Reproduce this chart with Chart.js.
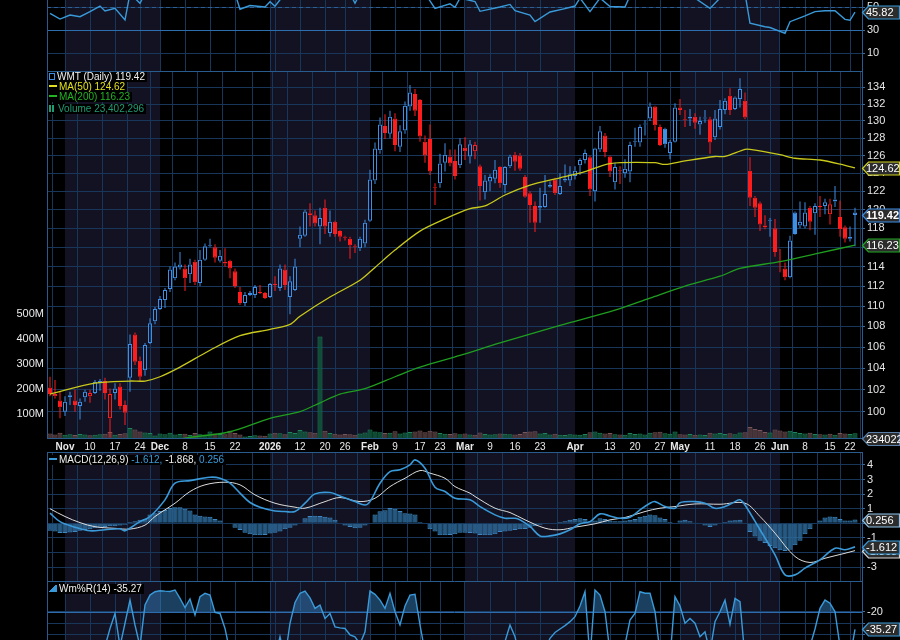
<!DOCTYPE html>
<html>
<head>
<meta charset="utf-8">
<title>WMT Daily</title>
<script src="https://cdn.jsdelivr.net/npm/chart.js@4.4.1/dist/chart.umd.min.js"></script>
<style>
  html, body { margin: 0; padding: 0; background: #000; }
  body { width: 900px; height: 640px; position: relative; overflow: hidden; font-family: "Liberation Sans", Arial, sans-serif; }
  .pane { position: absolute; left: 0; width: 900px; }
  .lg { position: absolute; left: 48px; font-size: 10px; line-height: 10px; color: #f0f0f0; white-space: nowrap; }
  .lg > div { display: table; background: #000; padding-right: 2px; }
  .ico { display: inline-block; vertical-align: middle; margin: -2px 2px 0 1px; }
  .dash { width: 8px; height: 2px; }
</style>
</head>
<body>
<div class="pane" style="top:0;height:71px"><canvas id="rsiChart"></canvas></div>
<div class="pane" style="top:71px;height:381px"><canvas id="priceChart"></canvas></div>
<div class="pane" style="top:452px;height:129px"><canvas id="macdChart"></canvas></div>
<div class="pane" style="top:581px;height:59px"><canvas id="wprChart"></canvas></div>

<div class="lg" style="top:72px">
  <div><span class="ico" style="width:6px;height:7px;border:1px solid #3d8fe6;box-sizing:border-box"></span><span id="lgPrice"></span></div>
  <div style="color:#e0e020"><span class="ico dash" style="background:#e0e020"></span><span id="lgMa50"></span></div>
  <div style="color:#22b422"><span class="ico dash" style="background:#22b422"></span><span id="lgMa200"></span></div>
  <div style="color:#1f9c74;margin-top:2px"><span class="ico" style="width:7px;height:7px;background:linear-gradient(90deg,#1f9c74 2px,transparent 2px,transparent 3px,#1f9c74 3px,#1f9c74 5px,transparent 5px)"></span><span id="lgVol"></span></div>
</div>
<div class="lg" style="top:455px">
  <div><span class="ico dash" style="background:#3a9ad9"></span><span>MACD(12,26,9)</span><span style="color:#3a9ad9" id="lgMacd"></span><span id="lgSig"></span><span style="color:#3a9ad9" id="lgHist"></span></div>
</div>
<div class="lg" style="top:584px">
  <div><span class="ico" style="width:8px;height:7px;background:linear-gradient(135deg,transparent 45%,#3a9ad9 45%)"></span><span id="lgWpr"></span></div>
</div>

<script>
// ---- data: WMT daily, Oct 29 2025 .. Jun 23 2026 (162 sessions) ----
const openP = [
  102.2,101.6,101.0,100.0,101.3,101.0,100.5,101.3,101.4,101.7,
  102.6,102.8,99.4,101.7,102.3,100.6,103.1,107.2,104.7,103.8,
  106.4,108.5,109.7,110.6,111.7,112.8,113.9,113.8,113.2,114.5,
  112.3,114.7,116.1,116.0,114.6,114.5,114.6,113.5,111.4,110.3,
  111.1,111.1,111.4,111.3,110.9,112.2,111.8,113.7,110.9,111.6,
  116.9,117.2,119.6,119.4,118.2,120.2,117.5,118.7,117.7,117.1,
  116.9,116.1,115.9,116.4,118.8,123.2,126.6,129.4,128.5,130.3,
  127.0,128.9,131.7,133.2,132.5,127.6,127.9,122.5,122.9,125.2,
  125.9,125.4,124.9,126.9,125.9,126.5,124.8,121.9,123.1,123.4,
  124.7,122.7,124.8,126.1,126.0,123.6,121.8,120.4,120.2,120.3,
  122.5,123.3,121.7,123.2,123.2,123.7,124.9,125.5,125.8,122.0,
  126.7,128.3,125.9,123.0,124.4,124.0,124.2,127.6,127.5,129.6,
  130.3,131.7,129.3,129.1,126.3,127.6,131.6,130.2,130.3,130.5,
  129.6,130.3,130.2,128.1,129.3,131.3,133.0,131.4,132.6,132.4,
  124.3,121.3,120.7,118.1,118.8,118.0,114.6,113.8,112.9,119.7,
  118.3,118.2,120.2,119.6,120.4,120.4,119.5,120.9,119.2,118.1,
  116.9,119.7
];
const highP = [
  103.2,102.9,101.8,101.4,101.8,102.0,101.2,102.0,102.0,102.9,
  103.0,103.1,102.1,102.6,102.6,101.0,107.2,107.4,105.1,106.4,
  108.8,109.9,111.0,111.8,114.0,114.4,115.5,114.2,114.8,114.7,
  115.7,116.4,116.9,116.3,115.7,115.9,114.7,113.8,111.9,111.4,
  111.5,112.1,112.1,111.4,112.3,113.0,114.2,114.2,113.0,114.8,
  118.2,120.0,120.7,119.9,120.2,121.1,119.9,118.8,117.8,117.2,
  117.1,116.3,117.1,118.9,124.4,127.5,130.4,130.8,131.2,130.9,
  129.5,132.3,134.3,133.8,132.6,128.3,129.6,122.9,126.2,127.4,
  126.7,126.7,128.0,128.1,127.8,127.6,125.0,123.8,123.9,125.5,
  124.8,124.8,126.1,126.4,126.3,123.8,122.0,120.9,122.4,123.8,
  123.1,123.5,124.0,125.0,124.8,124.8,125.7,126.7,126.0,126.9,
  129.4,128.6,126.0,125.2,124.8,125.6,127.6,129.2,129.6,130.1,
  132.2,131.8,129.6,129.2,127.8,132.1,132.6,131.3,131.4,130.9,
  130.5,131.3,130.5,131.3,132.5,132.7,133.9,132.9,135.1,133.4,
  125.8,121.5,120.9,119.4,119.1,119.0,115.8,114.4,117.2,119.8,
  120.9,120.8,120.4,120.7,121.5,121.2,121.2,122.6,121.0,118.3,
  118.2,120.2
];
const lowP = [
  101.4,101.2,99.4,99.6,100.6,100.0,99.3,100.9,100.8,101.6,
  101.9,101.1,97.7,101.1,100.2,98.8,101.8,104.3,102.8,103.3,
  106.3,108.2,109.6,109.8,111.4,112.6,113.7,111.5,112.3,112.1,
  112.0,114.6,116.0,114.4,114.4,114.0,112.8,111.8,110.1,110.0,
  111.0,110.8,111.2,110.7,110.8,111.5,111.5,111.6,109.2,111.5,
  116.0,117.1,118.2,118.2,116.3,117.4,117.1,117.1,116.6,116.7,
  114.8,115.4,115.6,116.0,118.7,122.8,126.2,127.9,128.0,126.5,
  126.4,128.5,131.2,130.6,127.6,125.2,123.8,120.5,122.4,124.2,
  124.8,123.3,124.6,125.5,125.1,125.6,121.0,121.1,122.0,122.9,
  122.4,121.8,124.6,124.3,124.3,121.3,118.6,117.6,118.6,120.2,
  122.4,121.6,121.6,123.0,122.6,123.3,123.8,125.1,121.5,120.9,
  126.4,125.8,123.6,122.2,122.8,123.5,123.0,127.0,127.0,128.3,
  130.0,128.9,127.1,126.9,125.6,127.5,130.7,129.3,129.4,129.1,
  128.4,129.8,126.2,127.8,129.0,130.8,130.7,131.3,131.6,130.2,
  120.4,119.2,117.7,117.9,117.1,115.0,113.4,112.6,112.8,117.3,
  118.0,118.0,117.8,117.3,119.2,119.5,118.4,120.3,117.1,116.5,
  116.6,116.1
];
const closeP = [
  101.6,101.4,100.4,100.9,101.5,100.6,100.9,101.8,101.7,102.7,
  102.8,101.7,101.6,102.1,100.5,99.9,106.3,104.6,103.2,106.2,
  108.3,109.7,110.7,111.6,113.7,114.0,114.2,112.8,114.2,112.4,
  114.7,116.1,116.2,114.9,115.1,114.3,113.8,112.0,110.3,111.1,
  111.3,111.9,111.3,110.8,112.2,112.1,113.8,112.1,112.5,114.0,
  117.3,119.8,119.4,118.5,119.1,118.2,118.7,117.4,117.1,117.0,
  116.2,116.0,116.9,118.6,123.3,126.8,129.6,128.6,130.5,127.2,
  128.8,131.8,133.4,131.2,128.2,126.0,124.2,122.4,125.1,126.1,
  125.1,123.7,127.3,126.5,127.3,127.2,122.6,123.2,123.6,124.4,
  122.9,124.7,125.9,125.3,124.5,121.4,120.5,118.6,120.4,121.7,
  122.7,121.8,122.6,123.4,123.9,124.3,125.5,126.3,122.2,126.8,
  128.8,126.4,124.2,124.7,124.3,124.5,127.2,127.7,129.3,129.7,
  131.7,129.5,127.2,127.3,127.6,131.6,131.3,130.1,130.5,129.8,
  130.0,130.4,127.5,130.3,131.4,132.4,131.3,132.8,133.8,130.4,
  121.3,120.2,118.4,118.3,118.9,115.5,114.5,112.9,116.7,117.4,
  118.7,119.7,118.7,120.4,120.3,120.8,120.6,121.1,117.9,116.9,
  117.1,119.42
];
const prevClose0 = 102.6;
// volume, millions of shares
const volumeM = [
  22,18,25,17,19,16,20,18,15,17,
  19,21,28,17,20,23,44,38,30,26,
  24,14,22,19,25,18,20,21,16,24,
  19,18,30,22,20,19,33,24,18,10,
  12,15,14,13,22,25,23,19,28,24,
  36,30,27,25,410,33,24,21,18,20,
  19,17,22,26,38,30,27,24,25,31,
  22,26,28,30,34,27,33,30,24,21,
  20,23,19,22,18,17,26,20,18,19,
  22,21,19,18,20,28,30,31,22,24,
  18,21,17,16,19,18,17,20,27,30,
  25,22,24,19,18,17,24,20,22,18,
  25,27,29,23,21,30,19,18,20,17,
  18,16,25,22,24,20,23,19,26,27,
  48,40,36,28,26,38,34,30,33,28,
  24,22,25,20,19,18,21,17,24,22,
  20,23.402296
];

// axis ticks (session index -> label) and month starts
const tickIdx  = [3,8,13,18,22,27,32,37,44,45,50,55,59,64,69,74,78,83,88,93,98,105,112,117,122,126,132,137,142,146,151,156,160];
const tickText = ['Nov','10','17','24','Dec','8','15','22','2026','','12','20','26','Feb','9','17','23','Mar','9','16','23','Apr','13','20','27','May','11','18','26','Jun','8','15','22'];
const monthStart = [3,22,44,64,83,105,126,146];

// indicator readings [session index, value]
const ma50Pts = [[0,101.6],[9,102.6],[16,102.8],[19,102.8],[22,103.2],[26,104.1],[32,105.7],[38,107.1],[44,107.7],[48,108.2],[50,109.0],[56,110.9],[62,112.6],[65,113.9],[69,115.7],[74,117.7],[79,119.0],[84,120.1],[87,120.4],[91,121.6],[96,122.7],[102,123.5],[107,124.2],[112,125.1],[121,125.2],[123,125.0],[127,125.4],[133,125.9],[135,125.9],[139,126.7],[140,126.7],[146,126.1],[149,125.7],[154,125.5],[159,124.9],[161,124.62]];
const ma200Pts = [[22,97.3],[28,97.7],[36,98.2],[44,99.4],[50,100.0],[54,100.8],[58,101.6],[63,102.1],[69,103.2],[74,104.1],[82,105.2],[90,106.4],[102,108.1],[113,109.6],[120,110.8],[127,112.0],[134,113.0],[138,113.8],[146,114.5],[154,115.4],[161,116.23]];
const rsiPts = [[0,44.8],[2,39.8],[4,43.3],[6,41.8],[8,46.2],[10,51.1],[11,46.8],[13,49.1],[15,39.0],[16,62],[18,53.5],[19,62],[37,62],[38,48.3],[40,51.5],[43,50.3],[44,54.9],[45,51],[47,62],[60,62],[61,53.5],[62,62],[75,62],[77,49.1],[80,53],[81,50],[82,58],[85,55],[86,46.5],[90,50.3],[92,52.5],[93,47],[96,43.3],[97,37.5],[100,45.9],[103,48.9],[105,51.1],[106,58],[108,46.2],[110,58],[112,50.7],[115,50.3],[116,60],[128,60],[129,58],[132,49],[134,58],[139,62],[140,36.1],[143,33.1],[144,32.4],[147,27.4],[148,37.5],[151,42.5],[153,46.2],[155,47],[157,47],[159,39.5],[160,38.7],[161,45.82]];
const macdPts = [[0,0.70],[2,0.12],[5,-0.26],[8,-0.51],[11,-0.44],[14,-0.37],[15,-0.51],[18,0.12],[20,0.47],[23,1.61],[25,2.75],[28,2.93],[32,3.16],[34,3.09],[36,2.75],[38,2.07],[40,1.43],[42,1.11],[45,0.85],[47,0.81],[49,0.81],[51,1.38],[53,2.02],[56,2.11],[58,1.88],[61,1.49],[63,1.26],[64,1.49],[66,2.75],[68,3.55],[70,3.67],[72,4.01],[73,4.35],[75,3.78],[77,2.48],[79,2.18],[81,1.72],[84,1.61],[86,1.15],[89,0.58],[91,0.35],[93,0.35],[94,0.24],[96,-0.21],[98,-0.86],[100,-0.86],[102,-0.72],[104,-0.44],[106,-0.03],[108,0.12],[110,0.65],[112,0.51],[114,0.35],[116,0.42],[118,0.92],[120,1.38],[121,1.49],[123,1.15],[125,1.03],[126,1.42],[129,1.49],[131,1.38],[133,1.03],[135,1.15],[137,1.49],[138,1.61],[139,1.26],[142,-0.44],[145,-2.16],[147,-3.53],[149,-3.53],[151,-3.07],[154,-2.50],[157,-1.70],[159,-1.81],[161,-1.612]];
const signalPts = [[0,1.0],[3,0.47],[6,0.05],[9,-0.23],[13,-0.34],[16,-0.39],[19,-0.12],[21,0.47],[25,1.38],[28,2.18],[31,2.64],[35,2.82],[38,2.64],[41,1.95],[45,1.38],[49,1.11],[51,1.04],[55,1.49],[58,1.77],[62,1.49],[65,1.72],[68,2.52],[71,3.09],[74,3.62],[76,3.44],[79,3.09],[81,2.52],[84,2.07],[85,1.84],[89,1.04],[92,0.74],[95,0.24],[99,-0.33],[102,-0.44],[105,-0.26],[109,-0.03],[112,0.24],[115,0.40],[119,0.81],[122,1.04],[125,1.15],[129,1.33],[134,1.31],[139,1.38],[142,0.47],[145,-0.67],[149,-2.27],[152,-2.68],[155,-2.39],[159,-2.05],[161,-1.868]];
const histVals = [
  -0.5,-0.55,-0.66,-0.66,-0.62,-0.6,-0.5,-0.45,-0.4,-0.33,
  -0.3,-0.25,-0.2,-0.2,-0.15,-0.1,0.1,0.15,0.24,0.3,
  0.6,0.7,0.85,0.92,1.05,1.1,1.1,1.0,0.88,0.6,
  0.52,0.47,0.45,0.3,0.2,0.05,-0.05,-0.3,-0.45,-0.65,
  -0.75,-0.82,-0.82,-0.8,-0.7,-0.64,-0.55,-0.4,-0.3,-0.15,
  0.05,0.35,0.5,0.52,0.5,0.45,0.4,0.25,0.05,-0.15,
  -0.25,-0.33,-0.3,-0.15,-0.05,0.6,0.83,0.9,1.06,1.0,
  0.85,0.7,0.67,0.6,0.1,-0.05,-0.4,-0.55,-0.82,-0.82,
  -0.8,-0.75,-0.64,-0.64,-0.66,-0.7,-0.8,-0.82,-0.82,-0.75,
  -0.6,-0.55,-0.5,-0.45,-0.4,-0.38,-0.3,-0.2,-0.1,-0.05,
  0.0,0.05,0.1,0.15,0.24,0.3,0.35,0.3,0.15,0.2,
  0.35,0.3,0.2,0.15,0.15,0.2,0.25,0.3,0.45,0.52,
  0.6,0.55,0.4,0.3,0.1,0.05,0.2,0.24,0.15,0.02,
  -0.05,-0.15,-0.25,-0.15,0.02,0.1,0.2,0.22,0.25,0.05,
  -0.6,-0.9,-1.2,-1.35,-1.55,-1.7,-1.85,-1.9,-1.8,-1.5,
  -1.2,-0.75,-0.4,-0.05,0.2,0.4,0.47,0.45,0.3,0.2,
  0.2,0.256
];
const wprPts = [[0,-75],[5,-80],[10,-70],[11,-50],[12,-34.5],[13,-21.5],[14,-50],[15,-30],[16,-9.9],[17,-31.5],[18,-50],[19,-14.2],[20,-5.6],[21,-2.7],[22,-1.8],[23,-2.2],[24,-2.5],[25,-1.2],[26,-8.4],[27,-16.5],[28,-8.9],[29,-22.9],[30,-7.0],[31,-4.1],[32,-5.6],[33,-20.6],[34,-21.5],[35,-34.5],[36,-55],[40,-80],[45,-60],[46,-41.7],[47,-60],[48,-30],[49,-12],[50,-4],[51,-2.1],[52,-8],[53,-17.1],[54,-14.2],[55,-25.8],[56,-21.5],[57,-33.1],[58,-34],[59,-34.5],[60,-40],[61,-41.7],[62,-48],[63,-37.4],[64,-2.1],[65,-5],[66,-10],[67,-17.1],[68,-4.1],[69,-20],[70,-31.5],[71,-15],[72,-5.6],[73,-5.0],[74,-31.5],[75,-55],[80,-75],[85,-80],[90,-60],[92,-31.5],[93,-41.7],[94,-60],[97,-75],[100,-43],[101,-38],[102,-35],[103,-32],[104,-28.6],[105,-24.3],[106,-15],[107,-2.7],[108,-60],[109,-1.2],[110,-5.6],[111,-20.0],[112,-55],[114,-70],[116,-27.2],[117,-21.5],[118,-2.7],[119,-4],[120,-4],[121,-20],[122,-55],[124,-60],[125,-7.0],[126,-15],[127,-30.0],[128,-25.8],[129,-30],[130,-41.7],[131,-37.4],[132,-55],[133,-28.6],[134,-20],[135,-9.9],[136,-30.9],[137,-8.4],[138,-11.3],[139,-60],[145,-90],[150,-80],[152,-50],[153,-35],[154,-17.1],[155,-9.9],[156,-12.7],[157,-20],[158,-50],[160,-60],[161,-35.27]];

// ---- styling ----
const FONT = '"Liberation Sans", Arial, sans-serif';
const GRID = '#17365a';
const FRAME = '#2a5b8d';
const NAVY = '#121222';
const BLUE = '#3a9ad9';
const UP = '#3d8fe6', DN = '#ff1c1c';
const N = closeP.length;
const X_MIN = -0.6, X_MAX = N + 0.4;

Chart.defaults.font.family = FONT;

const last = a => a[a.length - 1][1];
const pts = a => a.map(p => ({ x: p[0], y: p[1] }));
const isUp = i => closeP[i] >= (i ? closeP[i - 1] : prevClose0);
const isFilled = i => closeP[i] < openP[i];
const candleCol = i => isUp(i) ? UP : DN;

// ---- plugins ----
const shade = {
  id: 'shade',
  beforeDraw(chart) {
    const { ctx, chartArea: a, scales: { x } } = chart;
    ctx.save();
    ctx.fillStyle = NAVY;
    for (let k = 0; k < monthStart.length; k += 2) {
      const x0 = x.getPixelForValue(monthStart[k]);
      const x1 = k + 1 < monthStart.length ? x.getPixelForValue(monthStart[k + 1]) : a.right;
      ctx.fillRect(x0, a.top, x1 - x0, a.bottom - a.top);
    }
    ctx.restore();
  }
};

function frame(sides) {
  return {
    id: 'frame',
    afterDraw(chart) {
      const { ctx, chartArea: a } = chart;
      const l = Math.round(a.left) + 0.5, r = Math.round(a.right) + 0.5;
      const t = Math.round(a.top) + 0.5, b = Math.round(a.bottom) - 0.5;
      ctx.save();
      ctx.strokeStyle = FRAME;
      ctx.lineWidth = 1;
      ctx.beginPath();
      if (sides.includes('l')) { ctx.moveTo(l, a.top); ctx.lineTo(l, a.bottom); }
      if (sides.includes('r')) { ctx.moveTo(r, a.top); ctx.lineTo(r, a.bottom); }
      if (sides.includes('t')) { ctx.moveTo(a.left, t); ctx.lineTo(a.right, t); }
      if (sides.includes('b')) { ctx.moveTo(a.left, b); ctx.lineTo(a.right, b); }
      ctx.stroke();
      ctx.restore();
    }
  };
}

function levels(list) {
  return {
    id: 'levels',
    beforeDatasetsDraw(chart) {
      const { ctx, chartArea: a, scales: { y } } = chart;
      ctx.save();
      list.forEach(lv => {
        const py = Math.round(y.getPixelForValue(lv.v)) + 0.5;
        ctx.strokeStyle = lv.c;
        ctx.lineWidth = 1;
        ctx.setLineDash(lv.dash || []);
        ctx.beginPath();
        ctx.moveTo(a.left, py);
        ctx.lineTo(a.right, py);
        ctx.stroke();
      });
      ctx.restore();
    }
  };
}

function drawTag(ctx, y, text, border, bold) {
  const x0 = 862, w = 37, h = 13;
  ctx.save();
  ctx.beginPath();
  ctx.moveTo(x0 + 0.5, y);
  ctx.lineTo(x0 + 6.5, y - h / 2);
  ctx.lineTo(x0 + w + 0.5, y - h / 2);
  ctx.lineTo(x0 + w + 0.5, y + h / 2);
  ctx.lineTo(x0 + 6.5, y + h / 2);
  ctx.closePath();
  ctx.fillStyle = '#2c2c2c';
  ctx.fill();
  ctx.lineWidth = 1.2;
  ctx.strokeStyle = border;
  ctx.stroke();
  ctx.fillStyle = '#ffffff';
  ctx.font = (bold ? 'bold ' : '') + '11px ' + FONT;
  ctx.textBaseline = 'middle';
  ctx.textAlign = 'left';
  ctx.fillText(text, x0 + 4, y + 0.5);
  ctx.restore();
}

function tags(list) {
  return {
    id: 'tags',
    afterDraw(chart) {
      const { ctx, chartArea: a } = chart;
      list.forEach(t => {
        let py = Math.round(chart.scales[t.axis].getPixelForValue(t.v)) + 0.5;
        if (t.pinBottom) py = Math.max(py, a.bottom);
        drawTag(ctx, py, t.text, t.border, t.bold);
      });
    }
  };
}

// ---- scale helpers ----
function xScale(showLabels) {
  return {
    type: 'linear', min: X_MIN, max: X_MAX, offset: false,
    afterBuildTicks: s => { s.ticks = tickIdx.map(v => ({ value: v })); },
    afterFit: s => { s.height = showLabels ? 13 : 0; s.paddingLeft = 0; s.paddingRight = 0; },
    grid: { color: GRID, drawTicks: false },
    border: { display: false },
    ticks: showLabels ? {
      autoSkip: false, maxRotation: 0, padding: 2, color: '#e8e8e8',
      font: c => ({ family: FONT, size: 10, weight: /^\d{1,2}$/.test(tickText[c.index] || '') ? 'normal' : 'bold' }),
      callback: (v, idx) => tickText[idx]
    } : { display: false }
  };
}

function rightAxis(min, max, ticks, extra, labelled) {
  return Object.assign({
    type: 'linear', position: 'right', min, max,
    afterBuildTicks: s => { s.ticks = ticks.map(v => ({ value: v })); },
    afterFit: s => { s.width = 38; s.paddingTop = 0; s.paddingBottom = 0; },
    grid: { color: GRID, tickColor: '#3b6c9c', tickLength: 3 },
    border: { display: false },
    ticks: {
      autoSkip: false, color: '#e6e6e6', font: { family: FONT, size: 11 }, padding: 2,
      callback: v => (!labelled || labelled.includes(v)) ? String(v) : ''
    }
  }, extra || {});
}

function baseOptions(scales, padLeft) {
  return {
    responsive: true, maintainAspectRatio: false, animation: false, events: [],
    layout: { padding: { left: padLeft, right: 0, top: 0, bottom: 0 } },
    plugins: { legend: { display: false }, tooltip: { enabled: false } },
    scales
  };
}

// ---- RSI strip (top) ----
new Chart(document.getElementById('rsiChart'), {
  type: 'line',
  data: { datasets: [{
    data: pts(rsiPts), borderColor: BLUE, borderWidth: 1.4, pointRadius: 0, tension: 0,
    fill: { target: { value: 30 }, above: 'rgba(0,0,0,0)', below: 'rgba(58,140,210,0.45)' }
  }] },
  options: baseOptions({ x: xScale(false), y: rightAxis(-5.4, 56.35, [10, 30, 50]) }, 47),
  plugins: [shade, frame(['l', 'r']),
    levels([{ v: 50, c: '#2d5f92', dash: [4, 3] }, { v: 30, c: '#2f6cab' }]),
    tags([{ axis: 'y', v: last(rsiPts), text: last(rsiPts).toFixed(2), border: BLUE }])]
});

// ---- price + volume ----
const priceTicks = [];
for (let p = 100; p <= 134; p += 2) priceTicks.push(p);

new Chart(document.getElementById('priceChart'), {
  type: 'bar',
  data: { datasets: [
    { type: 'line', data: pts(ma50Pts), yAxisID: 'y', borderColor: '#c9c91c', borderWidth: 1.3, pointRadius: 0, tension: 0.3, order: 0 },
    { type: 'line', data: pts(ma200Pts), yAxisID: 'y', borderColor: '#1f9e1f', borderWidth: 1.3, pointRadius: 0, tension: 0.3, order: 0 },
    { data: openP.map((o, i) => ({ x: i, y: [o, closeP[i]] })), yAxisID: 'y', order: 1,
      grouped: false, barThickness: 4, borderWidth: 1, borderSkipped: false, inflateAmount: 0, minBarLength: 1,
      borderColor: c => candleCol(c.dataIndex),
      backgroundColor: c => isFilled(c.dataIndex) ? candleCol(c.dataIndex) : 'rgba(0,0,0,0)' },
    { data: highP.map((h, i) => ({ x: i, y: [Math.max(openP[i], closeP[i]), h] })), yAxisID: 'y', order: 2,
      grouped: false, barThickness: 1, borderWidth: 0, inflateAmount: 0,
      backgroundColor: c => candleCol(c.dataIndex) },
    { data: lowP.map((l, i) => ({ x: i, y: [l, Math.min(openP[i], closeP[i])] })), yAxisID: 'y', order: 2,
      grouped: false, barThickness: 1, borderWidth: 0, inflateAmount: 0,
      backgroundColor: c => candleCol(c.dataIndex) },
    { data: volumeM.map((v, i) => ({ x: i, y: v })), yAxisID: 'yv', order: 3,
      grouped: false, barThickness: 5, borderWidth: 1, borderSkipped: false, inflateAmount: 0,
      backgroundColor: c => isUp(c.dataIndex) ? 'rgba(14,84,58,0.9)' : 'rgba(78,56,58,0.9)',
      borderColor: c => isUp(c.dataIndex) ? 'rgba(32,130,88,1)' : 'rgba(120,86,88,1)' }
  ] },
  options: baseOptions({
    x: xScale(true),
    y: rightAxis(97.56, 136.0, priceTicks, { type: 'logarithmic' }),
    yv: {
      type: 'linear', position: 'left', min: 0, max: 1472,
      afterBuildTicks: s => { s.ticks = [100, 200, 300, 400, 500].map(v => ({ value: v })); },
      afterFit: s => { s.width = 47; s.paddingTop = 0; s.paddingBottom = 0; },
      grid: { display: false, drawTicks: false },
      border: { display: false },
      ticks: { autoSkip: false, color: '#eaeaea', font: { family: FONT, size: 11 }, padding: 3, callback: v => v + 'M' }
    }
  }, 0),
  plugins: [shade, frame(['l', 'r', 't', 'b']),
    tags([
      { axis: 'y', v: last(ma50Pts), text: last(ma50Pts).toFixed(2), border: '#d2d21e' },
      { axis: 'y', v: last(ma200Pts), text: last(ma200Pts).toFixed(2), border: '#22a822' },
      { axis: 'y', v: closeP[N - 1], text: closeP[N - 1].toFixed(2), border: UP, bold: true },
      { axis: 'yv', v: volumeM[N - 1], text: String(Math.round(volumeM[N - 1] * 1e6)).slice(0, 6), border: '#5a7fa8', pinBottom: true }
    ])]
});

// ---- MACD ----
new Chart(document.getElementById('macdChart'), {
  type: 'bar',
  data: { datasets: [
    { type: 'line', data: pts(macdPts), borderColor: BLUE, borderWidth: 1.6, pointRadius: 0, tension: 0.35, order: 0 },
    { type: 'line', data: pts(signalPts), borderColor: '#dcdcdc', borderWidth: 1, pointRadius: 0, tension: 0.35, order: 1 },
    { data: histVals.map((v, i) => ({ x: i, y: v })), order: 2, grouped: false, barThickness: 5,
      borderWidth: 1, inflateAmount: 0, backgroundColor: 'rgba(44,104,152,0.85)', borderColor: '#3f86c0' }
  ] },
  options: baseOptions({ x: xScale(false), y: rightAxis(-3.95, 4.89, [-3, -2, -1, 0, 1, 2, 3, 4]) }, 47),
  plugins: [shade, frame(['l', 'r', 't']),
    tags([
      { axis: 'y', v: last(signalPts), text: last(signalPts).toFixed(3), border: '#d8d8d8' },
      { axis: 'y', v: last(macdPts), text: last(macdPts).toFixed(3), border: BLUE },
      { axis: 'y', v: histVals[N - 1], text: histVals[N - 1].toFixed(3), border: '#8fc4ea' }
    ])]
});

// ---- Williams %R ----
new Chart(document.getElementById('wprChart'), {
  type: 'line',
  data: { datasets: [{
    data: pts(wprPts), borderColor: BLUE, borderWidth: 1.4, pointRadius: 0, tension: 0,
    fill: { target: { value: -20 }, above: 'rgba(58,140,210,0.45)', below: 'rgba(0,0,0,0)' }
  }] },
  options: baseOptions({ x: xScale(false), y: rightAxis(-44.5, 6.6, [-40, -30, -20], null, [-20]) }, 47),
  plugins: [shade, frame(['l', 'r', 't']),
    levels([{ v: -20, c: '#2f6cab' }]),
    tags([{ axis: 'y', v: last(wprPts), text: last(wprPts).toFixed(2), border: BLUE }])]
});

// ---- legends ----
document.getElementById('lgPrice').textContent = 'WMT (Daily) ' + closeP[N - 1].toFixed(2);
document.getElementById('lgMa50').textContent = 'MA(50) ' + last(ma50Pts).toFixed(2);
document.getElementById('lgMa200').textContent = 'MA(200) ' + last(ma200Pts).toFixed(2);
document.getElementById('lgVol').textContent = 'Volume ' + Math.round(volumeM[N - 1] * 1e6).toLocaleString('en-US');
document.getElementById('lgMacd').textContent = '\u00a0' + last(macdPts).toFixed(3) + ',';
document.getElementById('lgSig').textContent = '\u00a0' + last(signalPts).toFixed(3) + ',';
document.getElementById('lgHist').textContent = '\u00a0' + histVals[N - 1].toFixed(3);
document.getElementById('lgWpr').textContent = 'Wm%R(14) ' + last(wprPts).toFixed(2);
</script>
</body>
</html>
